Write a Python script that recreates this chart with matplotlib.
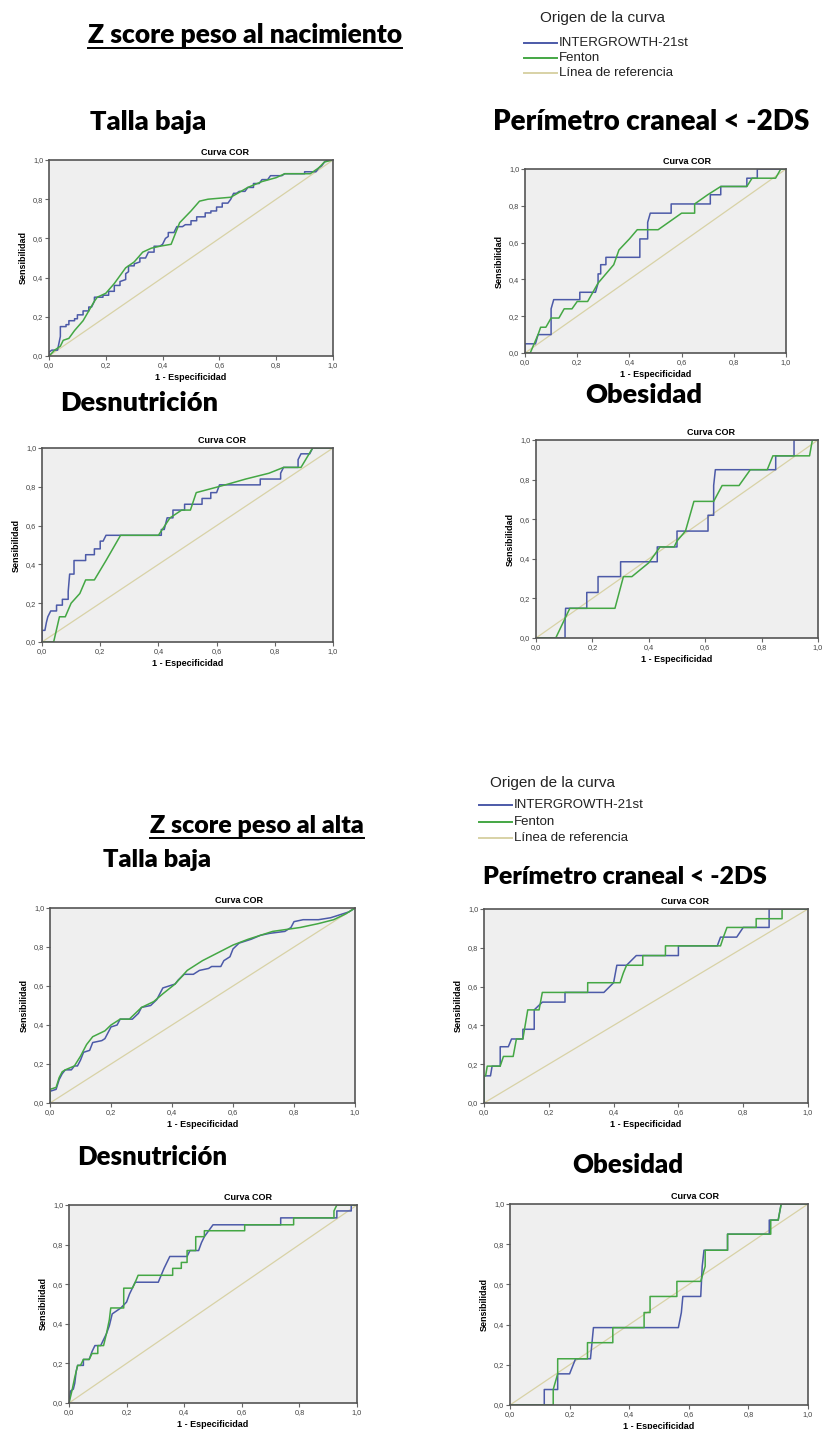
import numpy as np
import matplotlib.pyplot as plt
from matplotlib.lines import Line2D
from matplotlib.ticker import FuncFormatter

plt.rcParams['font.family'] = ['Liberation Sans', 'DejaVu Sans']

W, H = 822, 1429

# ROC curve vertices (1 - especificidad, sensibilidad)
# Z score peso al nacimiento
tb_nac_ig = [(0, 0), (0, 0.02), (0.01, 0.03), (0.03, 0.03), (0.04, 0.1), (0.04, 0.15), (0.06, 0.15), (0.06, 0.16),
             (0.07, 0.16), (0.07, 0.18), (0.09, 0.18), (0.09, 0.19), (0.1, 0.19), (0.1, 0.21), (0.12, 0.21),
             (0.12, 0.23), (0.14, 0.23), (0.14, 0.25), (0.15, 0.25), (0.16, 0.28), (0.16, 0.3), (0.19, 0.3),
             (0.19, 0.31), (0.21, 0.31), (0.21, 0.33), (0.23, 0.33), (0.23, 0.36), (0.25, 0.36), (0.25, 0.38),
             (0.27, 0.39), (0.27, 0.42), (0.28, 0.43), (0.28, 0.46), (0.3, 0.46), (0.3, 0.47), (0.32, 0.48),
             (0.32, 0.5), (0.34, 0.5), (0.35, 0.53), (0.37, 0.53), (0.37, 0.56), (0.39, 0.56), (0.4, 0.57),
             (0.41, 0.6), (0.42, 0.61), (0.42, 0.63), (0.44, 0.63), (0.45, 0.66), (0.47, 0.66), (0.48, 0.67),
             (0.5, 0.67), (0.5, 0.69), (0.52, 0.69), (0.52, 0.71), (0.55, 0.71), (0.55, 0.73), (0.57, 0.73),
             (0.57, 0.74), (0.59, 0.74), (0.59, 0.76), (0.61, 0.76), (0.61, 0.78), (0.63, 0.78), (0.64, 0.8),
             (0.65, 0.83), (0.66, 0.83), (0.67, 0.84), (0.69, 0.84), (0.7, 0.86), (0.72, 0.86), (0.72, 0.88),
             (0.74, 0.88), (0.75, 0.9), (0.77, 0.9), (0.78, 0.92), (0.82, 0.92), (0.83, 0.93), (0.9, 0.93),
             (0.9, 0.94), (0.94, 0.94), (0.95, 0.96), (0.96, 0.97), (0.97, 0.99), (0.98, 1.0), (1, 1)]
tb_nac_fe = [(0, 0), (0.02, 0.03), (0.04, 0.05), (0.05, 0.08), (0.07, 0.09), (0.09, 0.13), (0.12, 0.18),
             (0.16, 0.28), (0.17, 0.3), (0.2, 0.32), (0.23, 0.37), (0.27, 0.45), (0.3, 0.48), (0.33, 0.53),
             (0.36, 0.55), (0.39, 0.56), (0.43, 0.57), (0.46, 0.68), (0.5, 0.74), (0.53, 0.79), (0.56, 0.8),
             (0.64, 0.81), (0.7, 0.86), (0.75, 0.89), (0.8, 0.91), (0.83, 0.93), (0.92, 0.93), (0.95, 0.96),
             (0.97, 0.99), (1, 1)]
pc_nac_ig = [(0, 0), (0, 0.05), (0.04, 0.05), (0.05, 0.1), (0.1, 0.1), (0.1, 0.24), (0.11, 0.29), (0.21, 0.29),
             (0.21, 0.33), (0.27, 0.33), (0.28, 0.38), (0.28, 0.43), (0.29, 0.43), (0.29, 0.48), (0.31, 0.48),
             (0.31, 0.52), (0.44, 0.52), (0.44, 0.62), (0.47, 0.62), (0.47, 0.71), (0.48, 0.76), (0.56, 0.76),
             (0.56, 0.81), (0.71, 0.81), (0.71, 0.86), (0.75, 0.86), (0.75, 0.905), (0.85, 0.905), (0.85, 0.95),
             (0.89, 0.95), (0.89, 1.0), (1, 1)]
pc_nac_fe = [(0, 0), (0.02, 0), (0.05, 0.1), (0.06, 0.14), (0.08, 0.14), (0.1, 0.19), (0.13, 0.19), (0.15, 0.24),
             (0.18, 0.24), (0.2, 0.28), (0.24, 0.28), (0.28, 0.38), (0.31, 0.43), (0.34, 0.48), (0.36, 0.56),
             (0.4, 0.62), (0.43, 0.67), (0.51, 0.67), (0.55, 0.71), (0.6, 0.76), (0.65, 0.76), (0.65, 0.81),
             (0.7, 0.86), (0.75, 0.905), (0.85, 0.905), (0.87, 0.95), (0.96, 0.95), (0.98, 1.0), (1, 1)]
de_nac_ig = [(0, 0), (0, 0.06), (0.01, 0.06), (0.015, 0.1), (0.02, 0.13), (0.03, 0.16), (0.05, 0.16),
             (0.05, 0.19), (0.07, 0.19), (0.07, 0.22), (0.09, 0.22), (0.09, 0.26), (0.095, 0.35), (0.11, 0.35),
             (0.11, 0.42), (0.15, 0.42), (0.15, 0.45), (0.18, 0.45), (0.18, 0.48), (0.2, 0.48), (0.2, 0.52),
             (0.21, 0.52), (0.22, 0.55), (0.41, 0.55), (0.41, 0.58), (0.42, 0.58), (0.43, 0.64), (0.45, 0.64),
             (0.45, 0.68), (0.49, 0.68), (0.49, 0.71), (0.55, 0.71), (0.55, 0.74), (0.58, 0.74), (0.58, 0.77),
             (0.6, 0.77), (0.61, 0.81), (0.75, 0.81), (0.75, 0.84), (0.82, 0.84), (0.82, 0.87), (0.83, 0.9),
             (0.88, 0.9), (0.88, 0.94), (0.89, 0.97), (0.92, 0.97), (0.93, 1.0), (1, 1)]
de_nac_fe = [(0, 0), (0.04, 0), (0.06, 0.13), (0.08, 0.13), (0.1, 0.2), (0.13, 0.25), (0.15, 0.32), (0.18, 0.32),
             (0.22, 0.42), (0.27, 0.55), (0.4, 0.55), (0.44, 0.64), (0.48, 0.68), (0.51, 0.68), (0.53, 0.77),
             (0.63, 0.81), (0.7, 0.84), (0.78, 0.87), (0.83, 0.9), (0.89, 0.9), (0.91, 0.95), (0.93, 1.0), (1, 1)]
ob_nac_ig = [(0, 0), (0.103, 0), (0.103, 0.08), (0.105, 0.15), (0.18, 0.15), (0.18, 0.23), (0.22, 0.23),
             (0.22, 0.31), (0.3, 0.31), (0.3, 0.385), (0.43, 0.385), (0.43, 0.46), (0.5, 0.46), (0.5, 0.54),
             (0.61, 0.54), (0.61, 0.62), (0.63, 0.62), (0.63, 0.77), (0.636, 0.85), (0.85, 0.85), (0.85, 0.92),
             (0.915, 0.92), (0.915, 1.0), (1, 1)]
ob_nac_fe = [(0, 0), (0.07, 0), (0.12, 0.15), (0.28, 0.15), (0.31, 0.31), (0.34, 0.31), (0.4, 0.38), (0.44, 0.46),
             (0.49, 0.46), (0.5, 0.49), (0.53, 0.54), (0.56, 0.69), (0.63, 0.69), (0.66, 0.77), (0.72, 0.77),
             (0.76, 0.85), (0.82, 0.85), (0.84, 0.92), (0.97, 0.92), (0.98, 1.0), (1, 1)]

# Z score peso al alta
tb_alt_ig = [(0, 0), (0, 0.06), (0.02, 0.07), (0.03, 0.12), (0.04, 0.15), (0.05, 0.17), (0.07, 0.17),
             (0.08, 0.19), (0.09, 0.19), (0.1, 0.22), (0.11, 0.26), (0.13, 0.27), (0.14, 0.31), (0.17, 0.32),
             (0.18, 0.33), (0.19, 0.36), (0.2, 0.39), (0.22, 0.4), (0.23, 0.43), (0.27, 0.43), (0.29, 0.46),
             (0.3, 0.49), (0.33, 0.5), (0.35, 0.53), (0.36, 0.56), (0.37, 0.59), (0.39, 0.6), (0.41, 0.61),
             (0.42, 0.63), (0.44, 0.66), (0.47, 0.66), (0.49, 0.68), (0.52, 0.69), (0.53, 0.7), (0.56, 0.7),
             (0.57, 0.73), (0.59, 0.75), (0.6, 0.79), (0.62, 0.82), (0.66, 0.84), (0.69, 0.86), (0.72, 0.87),
             (0.77, 0.88), (0.79, 0.9), (0.8, 0.93), (0.83, 0.94), (0.88, 0.94), (0.92, 0.95), (0.96, 0.97),
             (0.98, 0.98), (1, 1)]
tb_alt_fe = [(0, 0), (0, 0.07), (0.02, 0.08), (0.03, 0.13), (0.04, 0.16), (0.05, 0.17), (0.08, 0.19), (0.1, 0.24),
             (0.12, 0.3), (0.14, 0.34), (0.18, 0.37), (0.2, 0.4), (0.23, 0.43), (0.26, 0.43), (0.3, 0.49),
             (0.34, 0.52), (0.37, 0.56), (0.41, 0.61), (0.45, 0.68), (0.5, 0.73), (0.55, 0.77), (0.6, 0.81),
             (0.65, 0.84), (0.73, 0.88), (0.82, 0.9), (0.88, 0.92), (0.93, 0.94), (0.97, 0.97), (1, 1)]
pc_alt_ig = [(0, 0), (0, 0.14), (0.02, 0.14), (0.025, 0.19), (0.05, 0.19), (0.05, 0.29), (0.075, 0.29),
             (0.085, 0.33), (0.12, 0.33), (0.12, 0.38), (0.155, 0.38), (0.155, 0.48), (0.18, 0.52), (0.25, 0.52),
             (0.25, 0.57), (0.37, 0.57), (0.4, 0.62), (0.41, 0.71), (0.44, 0.71), (0.47, 0.76), (0.6, 0.76),
             (0.6, 0.81), (0.72, 0.81), (0.73, 0.855), (0.78, 0.855), (0.8, 0.905), (0.88, 0.905), (0.88, 1.0),
             (1, 1)]
pc_alt_fe = [(0, 0), (0, 0.14), (0.005, 0.14), (0.01, 0.19), (0.05, 0.19), (0.06, 0.24), (0.09, 0.24),
             (0.1, 0.33), (0.12, 0.33), (0.13, 0.43), (0.135, 0.48), (0.17, 0.48), (0.18, 0.57), (0.32, 0.57),
             (0.32, 0.62), (0.42, 0.62), (0.43, 0.67), (0.44, 0.71), (0.49, 0.71), (0.49, 0.76), (0.56, 0.76),
             (0.56, 0.81), (0.73, 0.81), (0.74, 0.86), (0.75, 0.905), (0.84, 0.905), (0.84, 0.95), (0.92, 0.95),
             (0.92, 1.0), (1, 1)]
de_alt_ig = [(0, 0), (0.005, 0.06), (0.015, 0.07), (0.02, 0.1), (0.025, 0.16), (0.03, 0.19), (0.05, 0.19),
             (0.05, 0.22), (0.07, 0.22), (0.08, 0.26), (0.09, 0.29), (0.11, 0.29), (0.12, 0.32), (0.13, 0.35),
             (0.14, 0.39), (0.15, 0.45), (0.18, 0.48), (0.2, 0.51), (0.21, 0.55), (0.22, 0.58), (0.23, 0.61),
             (0.31, 0.61), (0.33, 0.68), (0.35, 0.74), (0.41, 0.74), (0.42, 0.77), (0.45, 0.77), (0.46, 0.81),
             (0.47, 0.84), (0.5, 0.9), (0.735, 0.9), (0.735, 0.935), (0.93, 0.935), (0.93, 0.97), (0.98, 0.97),
             (0.98, 1.0), (1, 1)]
de_alt_fe = [(0, 0), (0.01, 0.06), (0.02, 0.13), (0.03, 0.19), (0.04, 0.19), (0.05, 0.22), (0.07, 0.22),
             (0.08, 0.25), (0.1, 0.25), (0.1, 0.29), (0.12, 0.29), (0.13, 0.35), (0.14, 0.42), (0.145, 0.48),
             (0.19, 0.48), (0.19, 0.58), (0.22, 0.58), (0.23, 0.61), (0.24, 0.645), (0.36, 0.645), (0.36, 0.68),
             (0.39, 0.68), (0.39, 0.71), (0.41, 0.71), (0.41, 0.77), (0.44, 0.77), (0.44, 0.84), (0.47, 0.84),
             (0.47, 0.87), (0.61, 0.87), (0.61, 0.9), (0.78, 0.9), (0.78, 0.935), (0.92, 0.935), (0.92, 0.97),
             (0.93, 1.0), (1, 1)]
ob_alt_ig = [(0, 0), (0.115, 0), (0.115, 0.077), (0.16, 0.077), (0.16, 0.155), (0.2, 0.155), (0.22, 0.23),
             (0.27, 0.23), (0.28, 0.385), (0.565, 0.385), (0.575, 0.46), (0.58, 0.54), (0.64, 0.54), (0.645, 0.69),
             (0.651, 0.77), (0.73, 0.77), (0.73, 0.85), (0.87, 0.85), (0.87, 0.92), (0.9, 0.92), (0.91, 1.0), (1, 1)]
ob_alt_fe = [(0, 0), (0.145, 0), (0.145, 0.077), (0.16, 0.155), (0.16, 0.23), (0.26, 0.23), (0.26, 0.31),
             (0.345, 0.31), (0.345, 0.385), (0.45, 0.385), (0.45, 0.46), (0.47, 0.46), (0.47, 0.54), (0.56, 0.54),
             (0.56, 0.615), (0.64, 0.615), (0.655, 0.69), (0.655, 0.77), (0.73, 0.77), (0.73, 0.85), (0.875, 0.85),
             (0.875, 0.92), (0.9, 0.92), (0.91, 1.0), (1, 1)]

series_names = ['INTERGROWTH-21st', 'Fenton', 'Línea de referencia']
blue = '#4c5aa8'
green = '#44a744'
refc = '#d8d2a6'

head_font = ['Lato', 'DejaVu Sans']
narrow_font = ['Liberation Sans Narrow', 'Liberation Sans', 'DejaVu Sans']

fig = plt.figure(figsize=(W / 100, H / 100), dpi=100)


def fx(x):
    return x / W


def fy(y):
    return 1 - y / H


def roc_panel(box, ig, fe):
    x0, y0, x1, y1 = box
    ax = fig.add_axes([fx(x0), fy(y1), (x1 - x0) / W, (y1 - y0) / H])
    ax.set_facecolor('#efefef')
    ax.plot([0, 1], [0, 1], color=refc, lw=0.9)
    ig = np.array(ig)
    fe = np.array(fe)
    ax.plot(ig[:, 0], ig[:, 1], color=blue, lw=1.1)
    ax.plot(fe[:, 0], fe[:, 1], color=green, lw=1.1)
    ax.set_xlim(0, 1)
    ax.set_ylim(0, 1)
    ticks = [0, 0.2, 0.4, 0.6, 0.8, 1.0]
    ax.set_xticks(ticks)
    ax.set_yticks(ticks)
    fmt = FuncFormatter(lambda v, p: f'{v:.1f}'.replace('.', ','))
    ax.xaxis.set_major_formatter(fmt)
    ax.yaxis.set_major_formatter(fmt)
    ax.tick_params(length=3, width=0.8, color='#666666', labelsize=5.3, labelcolor='#444444', pad=1)
    for s in ax.spines.values():
        s.set_color('#555555')
        s.set_linewidth(1.2)
    ax.set_xlabel('1 - Especificidad', fontsize=6.5, fontweight='bold', labelpad=3)
    ax.set_ylabel('Sensibilidad', fontsize=6.5, fontweight='bold', family=narrow_font, labelpad=4)
    ax.text(0.62, 1.015, 'Curva COR', transform=ax.transAxes, ha='center', va='bottom',
            fontsize=6.5, fontweight='bold')
    return ax


roc_panel((49, 160, 333, 356), tb_nac_ig, tb_nac_fe)
roc_panel((525, 169, 786, 353), pc_nac_ig, pc_nac_fe)
roc_panel((42, 448, 333, 642), de_nac_ig, de_nac_fe)
roc_panel((536, 440, 818, 638), ob_nac_ig, ob_nac_fe)
roc_panel((50, 908, 355, 1103), tb_alt_ig, tb_alt_fe)
roc_panel((484, 909, 808, 1103), pc_alt_ig, pc_alt_fe)
roc_panel((69, 1205, 357, 1403), de_alt_ig, de_alt_fe)
roc_panel((510, 1204, 808, 1405), ob_alt_ig, ob_alt_fe)

# headings
heads = []
heads.append(fig.text(fx(88), fy(35), 'Z score peso al nacimiento', fontsize=19, fontweight='heavy',
                      family=head_font, va='center', ha='left'))
heads.append(fig.text(fx(150), fy(826), 'Z score peso al alta', fontsize=18, fontweight='heavy',
                      family=head_font, va='center', ha='left'))

subtitles = [('Talla baja', 90, 122, 19.5), ('Perímetro craneal < -2DS', 493, 122, 20),
             ('Desnutrición', 60, 403, 19.5), ('Obesidad', 585, 395, 19.5),
             ('Talla baja', 103, 860, 18.3), ('Perímetro craneal < -2DS', 483, 877, 18),
             ('Desnutrición', 77, 1157, 18.5), ('Obesidad', 572, 1165, 18.5)]
for txt, x, y, fs in subtitles:
    fig.text(fx(x), fy(y), txt, fontsize=fs, fontweight='heavy', family=head_font, va='center', ha='left')

# underline the two headings
fig.canvas.draw()
rend = fig.canvas.get_renderer()
for t in heads:
    bb = t.get_window_extent(rend)
    yl = bb.y0 - 1
    fig.add_artist(Line2D([bb.x0 / W, bb.x1 / W], [yl / H, yl / H], color='black', lw=1.4))


# legends
def legend_block(x_title, y_title, x_line, y_rows):
    fig.text(fx(x_title), fy(y_title), 'Origen de la curva', fontsize=11, va='center', ha='left', color='#222222')
    cols = [blue, green, refc]
    for name, c, yr in zip(series_names, cols, y_rows):
        fig.add_artist(Line2D([fx(x_line), fx(x_line + 33)], [fy(yr), fy(yr)], color=c, lw=1.4))
        fig.text(fx(x_line + 35), fy(yr), name, fontsize=9.5, va='center', ha='left', color='#222222')


legend_block(540, 18, 524, [43, 58, 73])
legend_block(490, 783, 479, [805, 822, 838])

fig.savefig('out.png', dpi=100)
